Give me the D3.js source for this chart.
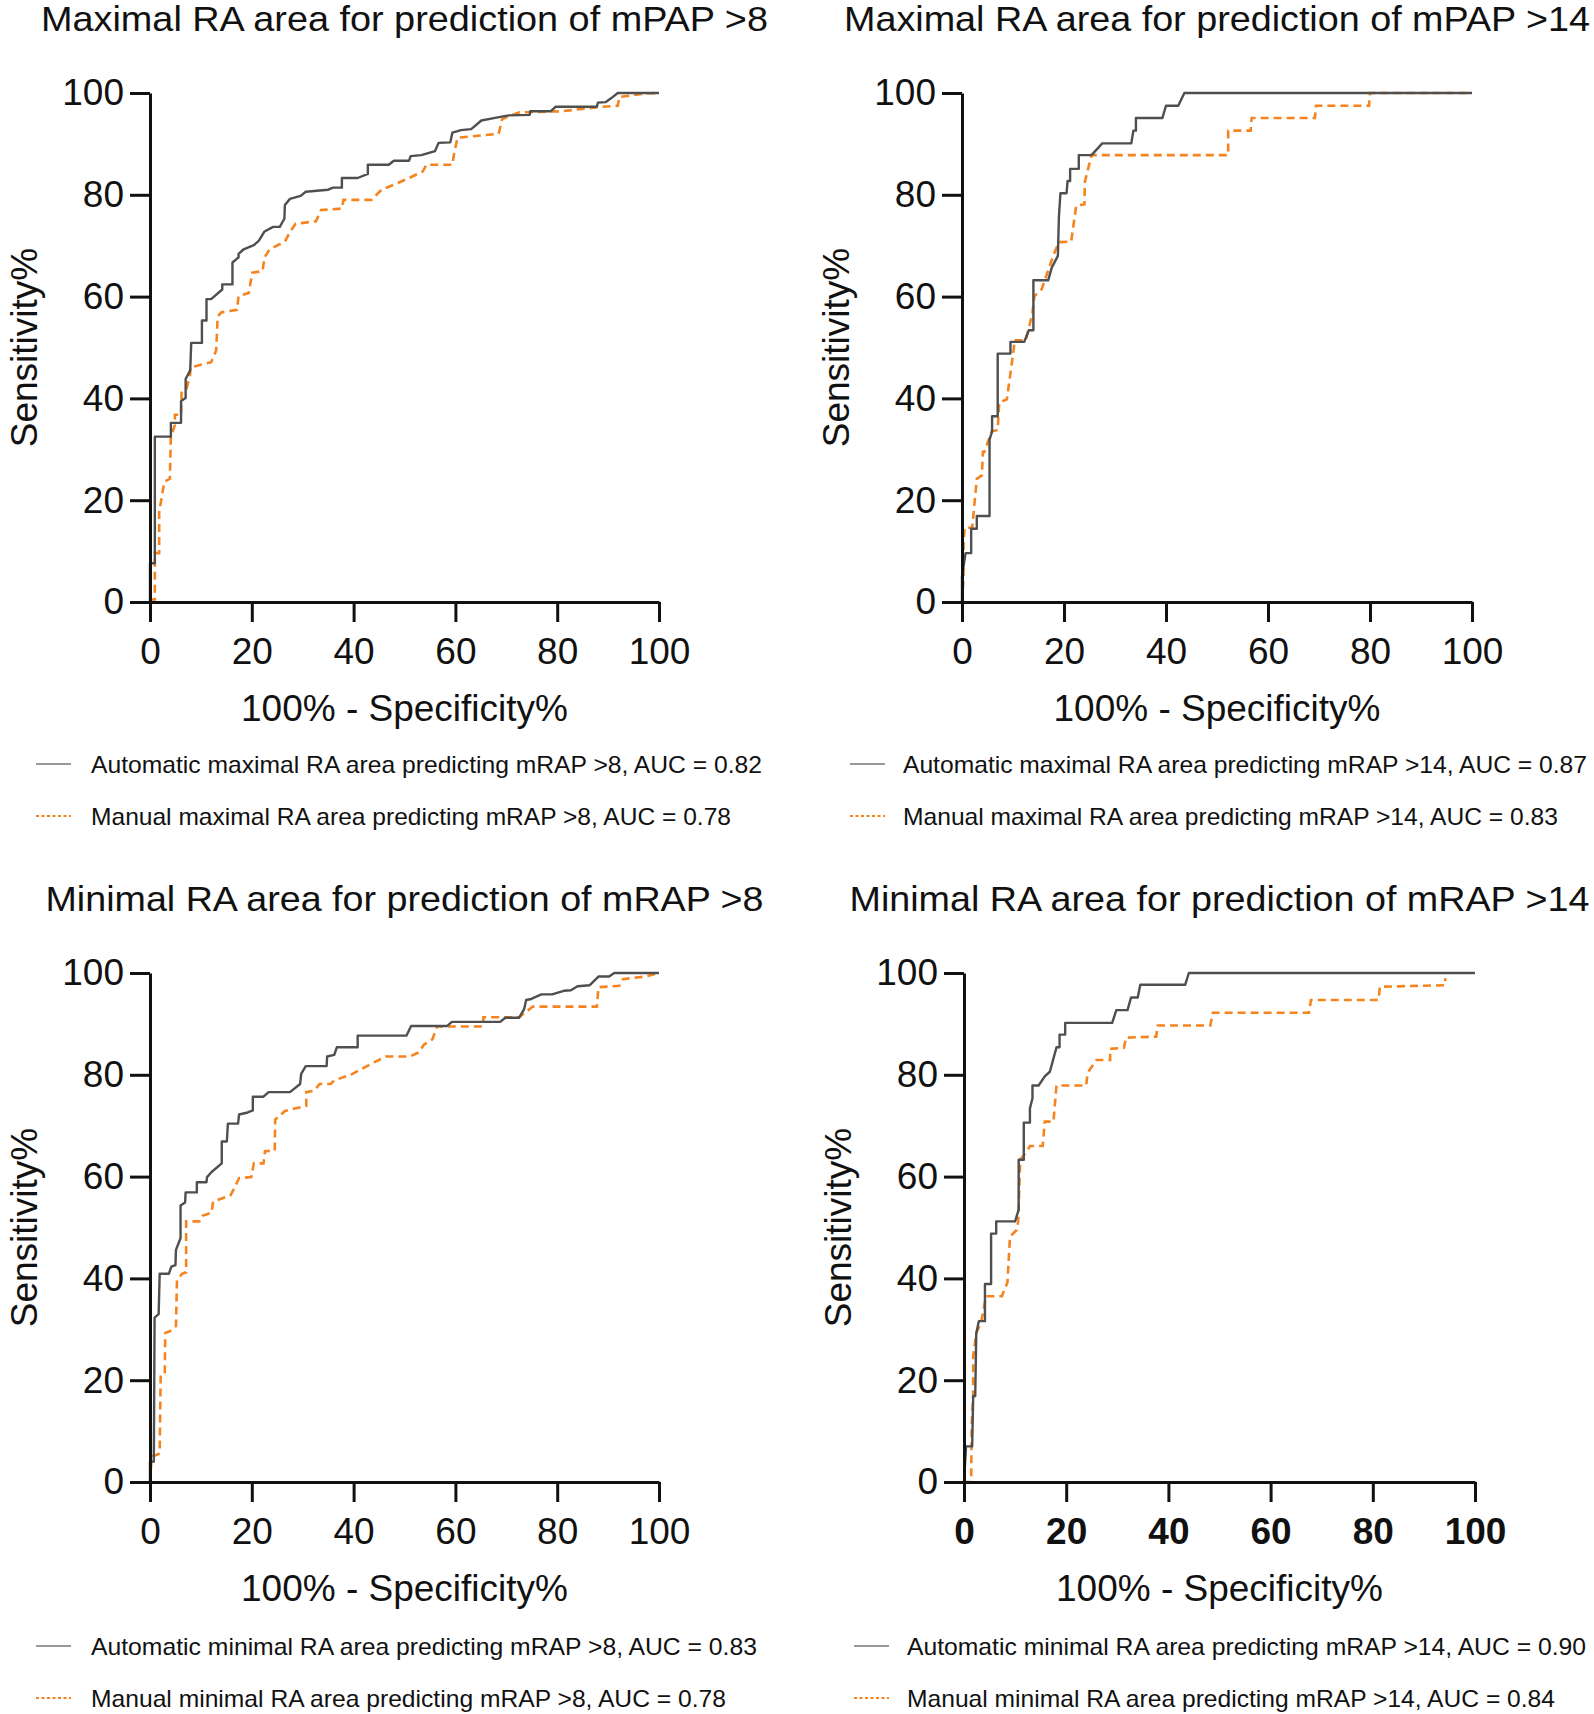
<!DOCTYPE html>
<html>
<head>
<meta charset="utf-8">
<script src="https://cdn.jsdelivr.net/npm/d3@7"></script>
<style>
  html, body { margin: 0; padding: 0; background: #fff; }
  svg { display: block; font-family: "Liberation Sans", Arial, Helvetica, sans-serif; }
</style>
</head>
<body>
<svg id="chart" width="1594" height="1714"></svg>
<script>
// ---------------- DATA (100% - Specificity%, Sensitivity%) ----------------
const tickValues = [0, 20, 40, 60, 80, 100];
const xAxisTitle = "100% - Specificity%";
const yAxisTitle = "Sensitivity%";

const titles = [
  "Maximal RA area for prediction of mPAP >8",
  "Maximal RA area for prediction of mPAP >14",
  "Minimal RA area for prediction of mRAP >8",
  "Minimal RA area for prediction of mRAP >14"
];

const autoLabels = [
  "Automatic maximal RA area predicting mRAP >8, AUC = 0.82",
  "Automatic maximal RA area predicting mRAP >14, AUC = 0.87",
  "Automatic minimal RA area predicting mRAP >8, AUC = 0.83",
  "Automatic minimal RA area predicting mRAP >14, AUC = 0.90"
];
const manualLabels = [
  "Manual maximal RA area predicting mRAP >8, AUC = 0.78",
  "Manual maximal RA area predicting mRAP >14, AUC = 0.83",
  "Manual minimal RA area predicting mRAP >8, AUC = 0.78",
  "Manual minimal RA area predicting mRAP >14, AUC = 0.84"
];

const maxAuto8 = [[0,0],[0,7.6],[0.95,7.6],[0.95,32.5],[4.1,32.5],[4.1,35.2],[6.1,35.2],[6.1,39.5],[7.0,40.1],[7.0,43.8],[7.9,45.5],[8.1,50.9],[10.2,50.9],[10.2,55.3],[11.1,55.3],[11.1,59.5],[12.0,59.5],[14.2,61.4],[14.2,62.4],[16.2,62.4],[16.2,66.7],[17.4,67.7],[17.4,68.4],[18.4,69.3],[20.4,70.1],[21.4,71.0],[22.5,72.8],[24.2,73.7],[25.5,73.7],[26.4,75.3],[26.5,78.0],[27.5,79.2],[29.6,79.8],[30.6,80.6],[35.0,81.0],[36.0,81.4],[37.7,81.4],[37.7,83.3],[40.8,83.3],[42.8,84.1],[42.8,85.9],[46.9,85.9],[47.9,86.7],[50.9,86.7],[51.2,87.6],[53.3,87.8],[56.0,88.6],[56.7,90.2],[59.0,90.3],[59.4,92.2],[61.1,92.7],[63.1,92.9],[65.1,94.6],[67.8,95.1],[70.5,95.6],[74.6,95.7],[74.7,96.4],[78.7,96.4],[79.7,97.3],[87.8,97.3],[88.0,98.1],[89.5,98.2],[90.5,98.9],[91.9,100],[100,100]];
const maxManual8 = [[0,0],[0.3,0.5],[0.95,0.5],[0.95,9.6],[1.8,9.6],[1.8,17.6],[2.8,23.6],[3.9,24.2],[4.1,32.5],[4.9,34.8],[4.9,36.8],[6.1,36.8],[6.2,41.1],[7.2,42.0],[7.9,44.8],[7.9,46.1],[12.0,47.1],[13.0,49.4],[13.3,56.1],[14.0,56.9],[17.1,57.4],[17.4,60.1],[19.4,60.7],[20.1,64.7],[22.1,65.0],[22.5,67.7],[23.5,69.3],[26.5,70.8],[27.5,72.7],[28.6,74.3],[32.6,74.8],[33.6,77.0],[37.7,77.3],[38.0,79.0],[43.5,79.0],[45.5,81.0],[48.2,82.1],[50.9,83.3],[53.6,84.6],[54.3,85.9],[59.4,85.9],[59.7,87.8],[60.4,91.2],[68.5,92.0],[69.2,94.9],[72.6,96.2],[80.7,96.4],[88.8,97.3],[91.9,97.5],[92.2,99.2],[97.3,99.9],[100,100]];

const maxAuto14 = [[0,0],[0,5.0],[0.7,9.6],[1.8,9.6],[1.8,14.4],[2.9,14.4],[2.9,16.9],[5.4,16.9],[5.4,31.9],[5.9,33.5],[5.9,36.5],[7.0,36.5],[7.0,48.8],[9.5,48.8],[9.5,51.1],[12.2,51.1],[13.1,53.4],[14.0,53.4],[14.0,63.2],[16.9,63.2],[17.6,65.7],[18.8,68.0],[19.0,75.6],[19.3,80.3],[20.5,80.3],[20.7,82.7],[21.2,82.7],[21.2,85.1],[22.9,85.1],[22.9,87.8],[25.4,87.8],[27.5,90.1],[33.2,90.1],[33.6,92.6],[34.1,92.6],[34.1,95.1],[39.3,95.1],[40.0,97.5],[42.4,97.5],[43.6,100],[100,100]];
const maxManual14 = [[0,0],[0.3,4.6],[0.3,11.0],[0.5,14.6],[2.0,14.6],[2.9,24.2],[3.9,24.9],[4.1,29.5],[4.4,29.5],[5.8,33.5],[7.0,33.8],[7.3,39.2],[8.8,39.8],[10.2,50.1],[10.2,51.4],[12.5,51.4],[13.8,56.7],[14.2,60.1],[15.6,61.4],[18.0,68.3],[19.0,70.7],[21.4,70.8],[22.4,77.9],[24.0,78.1],[24.1,82.6],[25.4,87.8],[52.2,87.8],[52.2,92.6],[56.6,92.6],[56.8,95.1],[69.2,95.1],[69.4,97.5],[79.8,97.5],[80.0,100],[100,100]];

const minAuto8 = [[0,0],[0,4.0],[0.75,4.0],[0.9,32.3],[1.7,33.0],[1.9,40.9],[3.7,40.9],[4.2,42.3],[5.0,42.6],[5.1,45.6],[6.0,47.9],[6.0,54.3],[6.9,54.9],[7.0,56.9],[9.2,56.9],[9.2,58.9],[11.1,58.9],[11.2,59.9],[12.1,60.9],[14.1,62.6],[14.1,66.9],[15.1,66.9],[15.3,70.4],[17.3,70.4],[17.5,72.2],[19.2,72.6],[20.2,73.0],[20.2,75.7],[22.3,75.7],[23.3,76.6],[27.5,76.6],[29.5,78.2],[29.7,80.2],[30.6,81.7],[34.7,81.7],[34.8,83.6],[36.2,83.9],[36.7,85.4],[40.8,85.4],[40.8,87.7],[50.4,87.7],[51.3,89.6],[58.4,89.6],[59.3,90.4],[68.8,90.4],[69.8,91.2],[72.5,91.2],[73.5,92.9],[73.9,94.7],[74.9,94.9],[76.9,95.8],[79.0,95.8],[81.3,96.5],[82.7,96.6],[84.0,97.4],[86.4,97.6],[87.2,98.4],[88.1,99.3],[90.2,99.3],[91.2,100],[100,100]];
const minManual8 = [[0,0],[0.34,5.0],[1.2,5.3],[1.9,5.6],[2.1,21.0],[2.9,21.3],[3.0,29.3],[3.9,29.6],[5.1,30.6],[5.3,39.6],[6.3,40.9],[7.1,41.2],[7.1,51.2],[9.7,51.2],[10.3,52.3],[12.1,52.9],[12.4,55.1],[15.8,56.3],[16.5,57.6],[17.5,59.7],[19.9,59.9],[20.4,62.6],[22.3,62.6],[22.6,65.0],[24.5,65.1],[24.6,71.2],[26.5,72.9],[30.7,73.9],[30.7,76.6],[32.3,76.9],[33.3,78.2],[35.5,78.2],[36.2,78.9],[39.6,80.1],[44.3,82.6],[46.4,83.6],[51.1,83.6],[52.8,84.4],[53.8,85.9],[55.5,87.0],[56.4,89.5],[65.4,89.5],[65.5,91.3],[72.5,91.3],[75.2,93.4],[87.8,93.4],[88.1,97.2],[92.2,97.5],[92.9,98.8],[97.3,99.3],[100,100]];

const minAuto14 = [[0,0],[0.4,7.0],[1.6,7.0],[1.8,16.9],[2.2,16.9],[2.4,29.2],[2.9,31.6],[4.1,31.6],[4.1,38.9],[5.3,38.9],[5.3,48.8],[6.3,48.8],[6.3,51.2],[10.0,51.2],[10.7,53.5],[10.7,63.3],[11.7,63.3],[11.7,70.6],[12.9,70.6],[12.9,73.4],[13.4,75.4],[13.4,77.9],[14.6,77.9],[15.8,79.7],[16.8,80.6],[18.1,85.4],[18.7,85.4],[18.7,87.9],[19.8,87.9],[19.8,90.2],[29.0,90.2],[29.8,92.7],[32.0,92.7],[32.7,95.2],[34.0,95.2],[34.5,97.7],[43.3,97.7],[44.0,100],[100,100]];
const minManual14 = [[0,0],[1.4,0],[1.5,11.0],[1.8,17.3],[1.8,24.6],[2.4,29.2],[3.4,31.6],[4.3,36.5],[7.4,36.5],[8.5,39.2],[9.0,48.2],[10.3,49.5],[10.6,51.2],[11.0,63.3],[12.4,65.1],[12.9,66.0],[15.4,66.0],[15.8,70.8],[17.5,70.8],[18.1,77.9],[23.9,77.9],[24.2,80.4],[25.9,82.9],[28.6,82.9],[28.6,85.1],[31.3,85.3],[31.7,87.3],[37.6,87.5],[37.9,89.7],[48.2,89.7],[48.7,92.2],[67.5,92.2],[67.9,94.7],[81.1,94.7],[81.4,97.3],[94.1,97.6],[94.2,99.0]];

const autoSeries = [maxAuto8, maxAuto14, minAuto8, minAuto14];
const manualSeries = [maxManual8, maxManual14, minManual8, minManual14];

// ---------------- LAYOUT ----------------
const layout = [
  { left: 150, right: 659, top: 93, bottom: 602, titleW: 727, yTitleX: 24, legX: 36, legTextX: 91, legY: 764, autoW: 671, manW: 640, boldX: false },
  { left: 962, right: 1472, top: 93, bottom: 602, titleW: 746, yTitleX: 836, legX: 850, legTextX: 903, legY: 764, autoW: 684, manW: 655, boldX: false },
  { left: 150, right: 659, top: 973, bottom: 1482, titleW: 718, yTitleX: 24, legX: 36, legTextX: 91, legY: 1646, autoW: 666, manW: 635, boldX: false },
  { left: 964, right: 1475, top: 973, bottom: 1482, titleW: 740, yTitleX: 838, legX: 854, legTextX: 907, legY: 1646, autoW: 679, manW: 648, boldX: true }
];

const GRAY = "#4f4f4f";
const ORANGE = "#f5841f";
const svg = d3.select("#chart");

layout.forEach((L, i) => {
  const x = d3.scaleLinear().domain([0, 100]).range([L.left, L.right]);
  const y = d3.scaleLinear().domain([0, 100]).range([L.bottom, L.top]);
  const g = svg.append("g");
  const cx = (L.left + L.right) / 2;

  // Title
  g.append("text")
    .attr("x", cx).attr("y", L.top - 62)
    .attr("text-anchor", "middle")
    .attr("font-size", 35)
    .attr("textLength", L.titleW).attr("lengthAdjust", "spacingAndGlyphs")
    .attr("fill", "#111")
    .text(titles[i]);

  // Curves
  const line = d3.line().x(d => x(d[0])).y(d => y(d[1]));
  g.append("path").datum(manualSeries[i])
    .attr("d", line).attr("fill", "none")
    .attr("stroke", ORANGE).attr("stroke-width", 2.6)
    .attr("stroke-dasharray", "8,5");
  g.append("path").datum(autoSeries[i])
    .attr("d", line).attr("fill", "none")
    .attr("stroke", GRAY).attr("stroke-width", 2.4)
    .attr("stroke-linejoin", "round");

  // Axes
  const yAxis = g.append("g").attr("transform", `translate(${L.left},0)`)
    .call(d3.axisLeft(y).tickValues(tickValues).tickSize(20).tickSizeOuter(0).tickPadding(6));
  const xAxis = g.append("g").attr("transform", `translate(0,${L.bottom})`)
    .call(d3.axisBottom(x).tickValues(tickValues).tickSize(20).tickSizeOuter(0).tickPadding(16));
  [yAxis, xAxis].forEach(a => {
    a.selectAll("path.domain").attr("stroke", "#111").attr("stroke-width", 3);
    a.selectAll(".tick line").attr("stroke", "#111").attr("stroke-width", 3);
    a.selectAll(".tick text").attr("font-size", 37).attr("fill", "#111")
      .attr("font-family", "'Liberation Sans', Arial, sans-serif");
  });
  if (L.boldX) xAxis.selectAll(".tick text").attr("font-weight", "bold");

  // Axis titles
  g.append("text")
    .attr("x", cx).attr("y", L.bottom + 106)
    .attr("text-anchor", "middle").attr("dominant-baseline", "central")
    .attr("font-size", 37).attr("fill", "#111")
    .text(xAxisTitle);
  g.append("text")
    .attr("transform", `translate(${L.yTitleX},${(L.top + L.bottom) / 2}) rotate(-90)`)
    .attr("text-anchor", "middle").attr("dominant-baseline", "central")
    .attr("font-size", 37).attr("fill", "#111")
    .text(yAxisTitle);

  // Legend
  const leg = g.append("g");
  leg.append("line")
    .attr("x1", L.legX).attr("x2", L.legX + 35)
    .attr("y1", L.legY).attr("y2", L.legY)
    .attr("stroke", "#777").attr("stroke-width", 1.6);
  leg.append("text")
    .attr("x", L.legTextX).attr("y", L.legY)
    .attr("dominant-baseline", "central")
    .attr("font-size", 24).attr("fill", "#111")
    .attr("textLength", L.autoW).attr("lengthAdjust", "spacingAndGlyphs")
    .text(autoLabels[i]);
  leg.append("line")
    .attr("x1", L.legX).attr("x2", L.legX + 35)
    .attr("y1", L.legY + 52).attr("y2", L.legY + 52)
    .attr("stroke", ORANGE).attr("stroke-width", 1.8)
    .attr("stroke-dasharray", "3,2.5");
  leg.append("text")
    .attr("x", L.legTextX).attr("y", L.legY + 52)
    .attr("dominant-baseline", "central")
    .attr("font-size", 24).attr("fill", "#111")
    .attr("textLength", L.manW).attr("lengthAdjust", "spacingAndGlyphs")
    .text(manualLabels[i]);
});
</script>
</body>
</html>
